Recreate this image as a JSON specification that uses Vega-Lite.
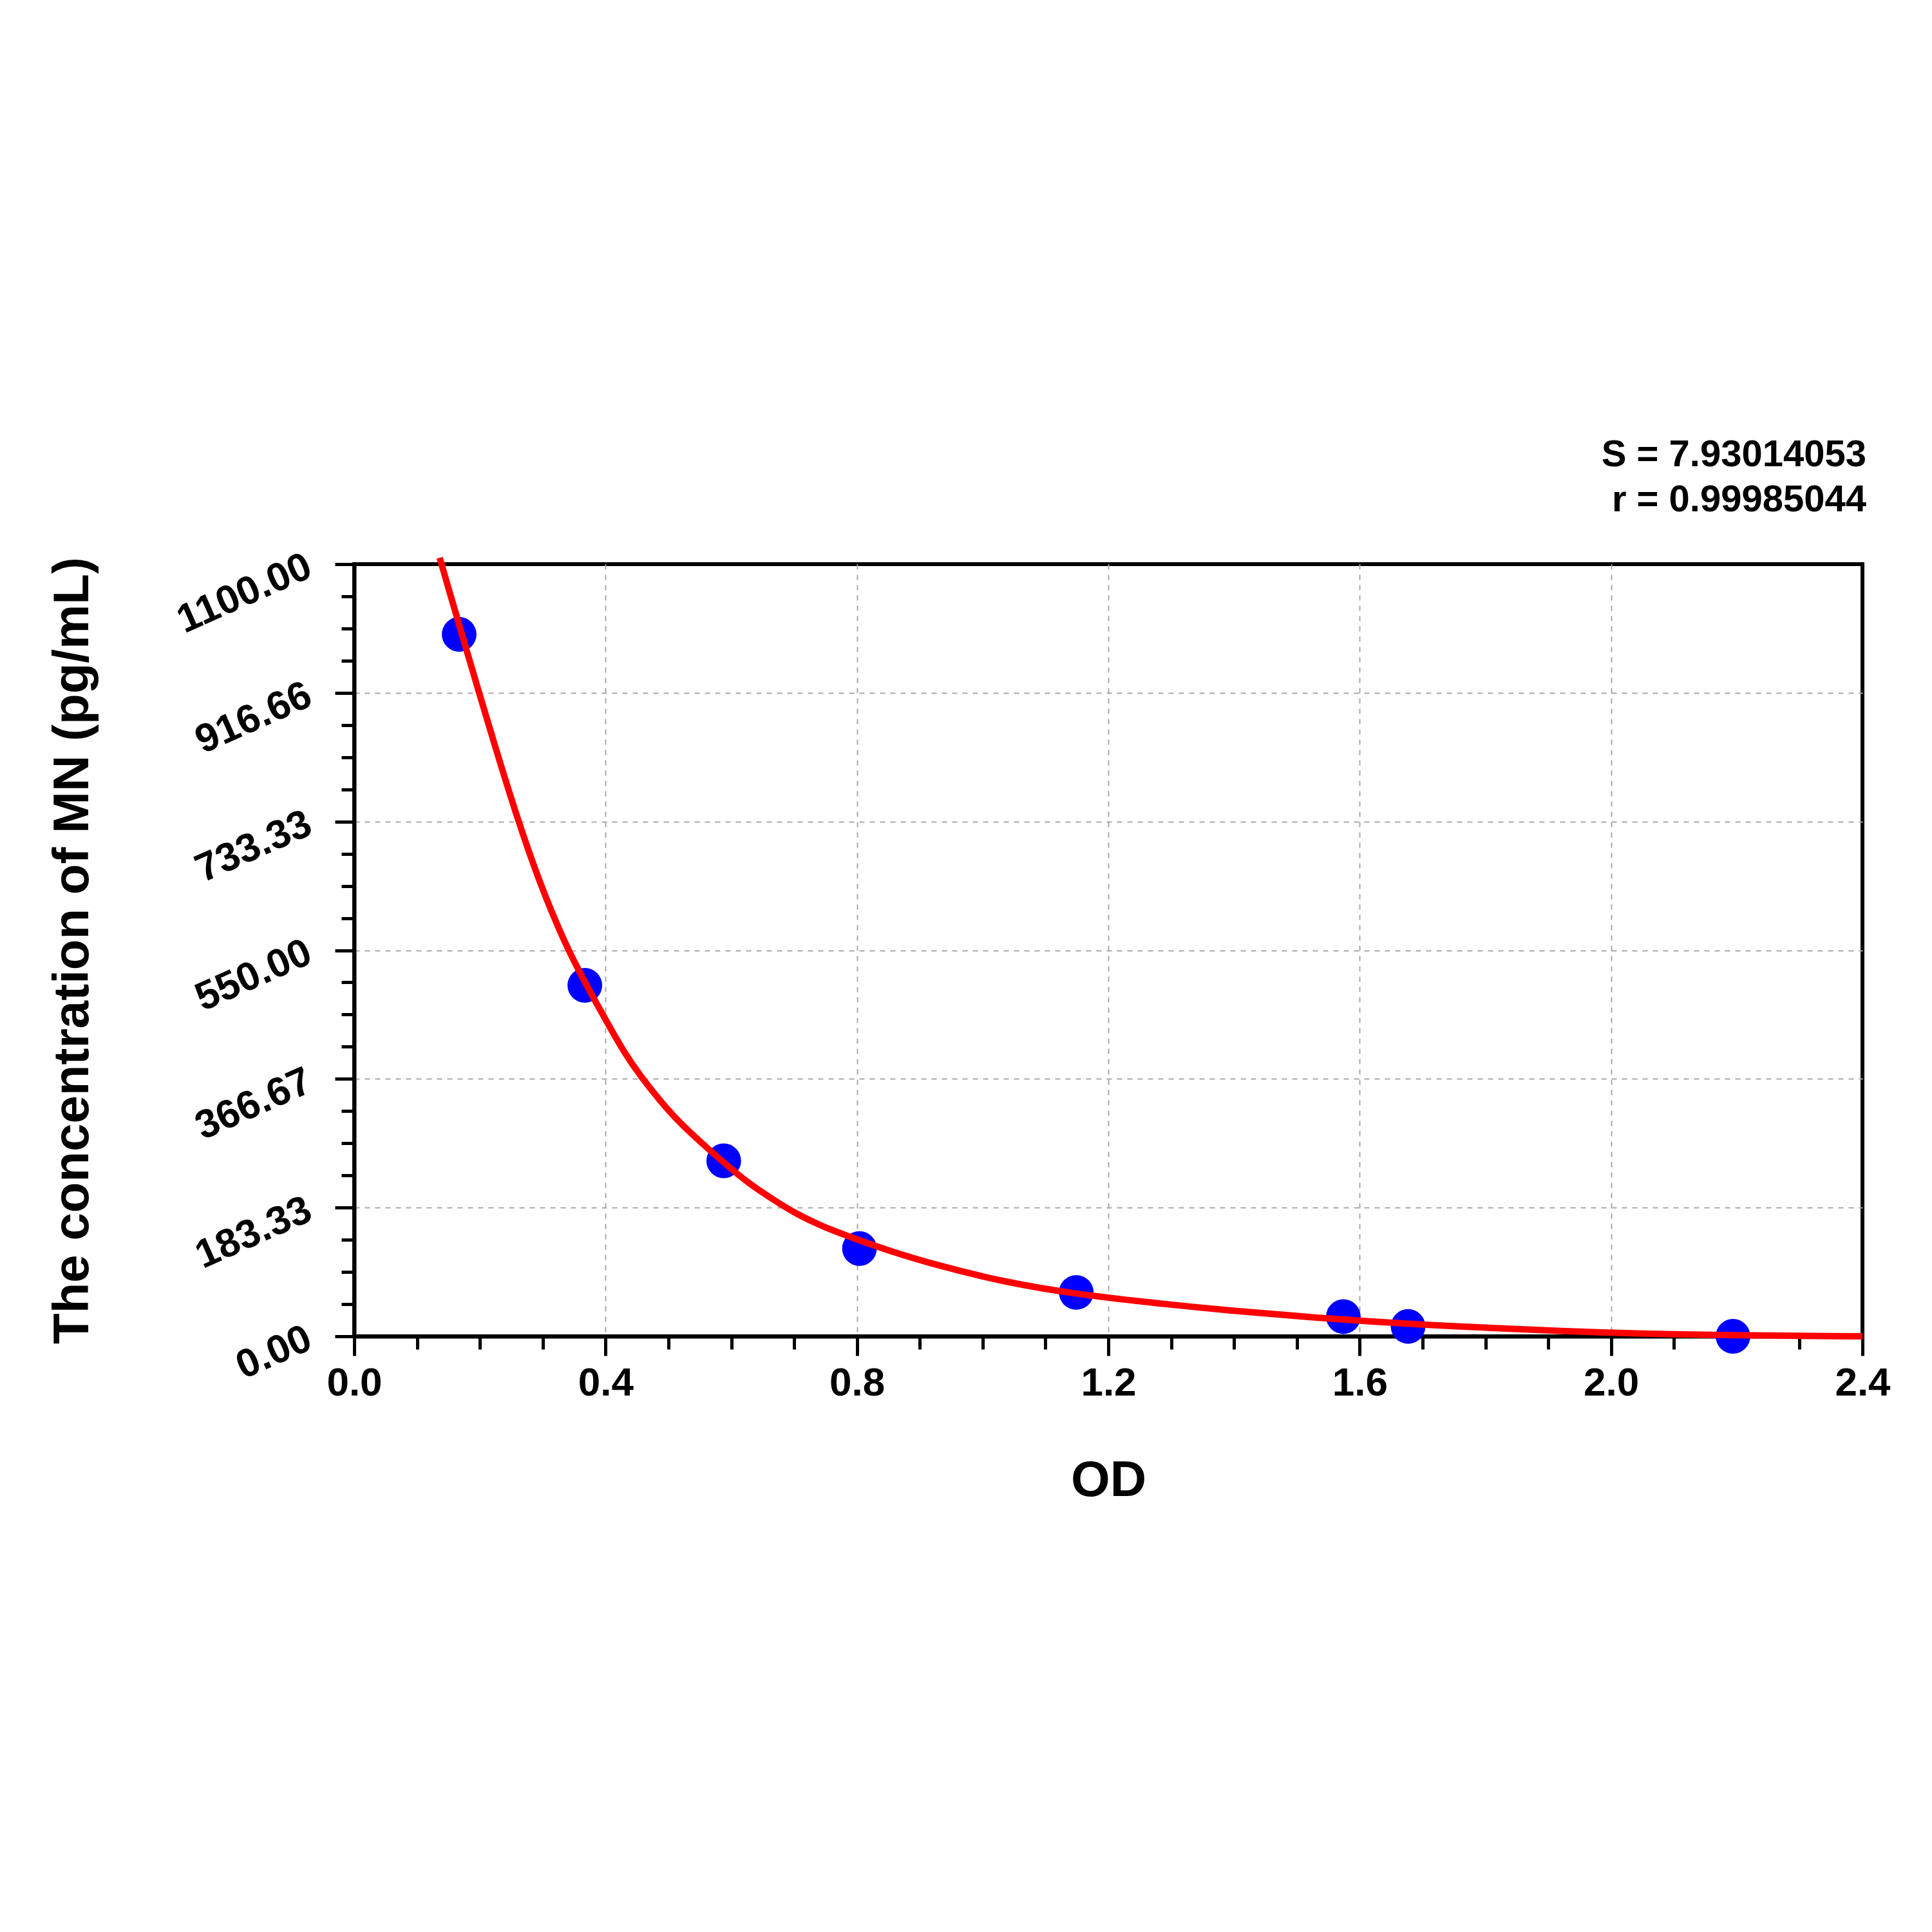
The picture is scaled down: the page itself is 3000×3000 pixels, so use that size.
{
  "$schema": "https://vega.github.io/schema/vega-lite/v6.json",
  "width": 2342,
  "height": 1199,
  "padding": {"left": 74, "top": 678, "right": 0, "bottom": 0},
  "background": "white",
  "config": {
    "font": "Liberation Sans",
    "view": {"stroke": "black", "strokeWidth": 6}
  },
  "title": {
    "text": "S = 7.93014053",
    "subtitle": "r = 0.99985044",
    "anchor": "end",
    "frame": "group",
    "font": "Liberation Sans",
    "fontSize": 58,
    "fontWeight": "bold",
    "color": "black",
    "subtitleFont": "Liberation Sans",
    "subtitleFontSize": 58,
    "subtitleFontWeight": "bold",
    "subtitleColor": "black",
    "subtitlePadding": 12,
    "offset": 40,
    "dx": 6
  },
  "datasets": {
    "points": [
      {"od": 0.167, "conc": 1000},
      {"od": 0.367, "conc": 500},
      {"od": 0.588, "conc": 250},
      {"od": 0.804, "conc": 125},
      {"od": 1.149, "conc": 62.5},
      {"od": 1.574, "conc": 28},
      {"od": 1.677, "conc": 14},
      {"od": 2.194, "conc": 0}
    ],
    "curve": [
      {"od": 0.136, "conc": 1109},
      {"od": 0.160, "conc": 1035},
      {"od": 0.178, "conc": 980},
      {"od": 0.196, "conc": 925},
      {"od": 0.225, "conc": 838},
      {"od": 0.257, "conc": 745},
      {"od": 0.294, "conc": 648},
      {"od": 0.335, "conc": 560},
      {"od": 0.361, "conc": 515},
      {"od": 0.382, "conc": 480},
      {"od": 0.402, "conc": 448},
      {"od": 0.429, "conc": 405},
      {"od": 0.456, "conc": 370},
      {"od": 0.490, "conc": 332},
      {"od": 0.515, "conc": 307},
      {"od": 0.552, "conc": 276},
      {"od": 0.586, "conc": 249},
      {"od": 0.627, "conc": 218},
      {"od": 0.668, "conc": 194},
      {"od": 0.702, "conc": 175},
      {"od": 0.746, "conc": 156},
      {"od": 0.797, "conc": 139},
      {"od": 0.850, "conc": 122},
      {"od": 0.932, "conc": 100},
      {"od": 1.036, "conc": 77},
      {"od": 1.149, "conc": 60},
      {"od": 1.277, "conc": 47},
      {"od": 1.390, "conc": 37},
      {"od": 1.520, "conc": 27},
      {"od": 1.700, "conc": 16},
      {"od": 1.930, "conc": 7},
      {"od": 2.110, "conc": 2},
      {"od": 2.400, "conc": 0}
    ]
  },
  "encoding": {
    "x": {
      "field": "od",
      "type": "quantitative",
      "scale": {"domain": [0, 2.4], "nice": false, "zero": false},
      "axis": {
        "title": "OD",
        "titleFont": "Liberation Sans",
        "titleFontSize": 78,
        "titleFontWeight": "bold",
        "titleColor": "black",
        "titlePadding": 82,
        "values": [0, 0.1, 0.2, 0.3, 0.4, 0.5, 0.6, 0.7, 0.8, 0.9, 1.0, 1.1, 1.2, 1.3, 1.4, 1.5, 1.6, 1.7, 1.8, 1.9, 2.0, 2.1, 2.2, 2.3, 2.4],
        "labelExpr": "abs(datum.value/0.4 - round(datum.value/0.4)) < 0.01 ? format(datum.value, '.1f') : ''",
        "labelFont": "Liberation Sans",
        "labelFontSize": 62,
        "labelFontWeight": "bold",
        "labelColor": "black",
        "labelPadding": 12,
        "labelFlush": false,
        "labelOverlap": false,
        "labelLimit": 0,
        "domainColor": "black",
        "domainWidth": 6,
        "tickColor": "black",
        "tickWidth": 5,
        "tickSize": {"condition": {"test": "abs(datum.value/0.4 - round(datum.value/0.4)) < 0.01", "value": 30}, "value": 20},
        "grid": true,
        "gridColor": "#a8a8a8",
        "gridWidth": 2,
        "gridDash": [8, 8],
        "gridOpacity": {"condition": {"test": "abs(datum.value/0.4 - round(datum.value/0.4)) < 0.01 && datum.value > 0.01 && datum.value < 2.39", "value": 1}, "value": 0}
      }
    },
    "y": {
      "field": "conc",
      "type": "quantitative",
      "scale": {"domain": [0, 1100], "nice": false, "zero": false},
      "axis": {
        "title": "The concentration of MN (pg/mL)",
        "titleFont": "Liberation Sans",
        "titleFontSize": 78,
        "titleFontWeight": "bold",
        "titleColor": "black",
        "titlePadding": 198,
        "values": [0, 45.83, 91.67, 137.5, 183.33, 229.17, 275, 320.83, 366.67, 412.5, 458.33, 504.17, 550, 595.83, 641.67, 687.5, 733.33, 779.17, 825, 870.83, 916.66, 962.5, 1008.33, 1054.17, 1100],
        "labelExpr": "abs(datum.value/183.3333 - round(datum.value/183.3333)) < 0.01 ? format(datum.value, '.2f') : ''",
        "labelFont": "Liberation Sans",
        "labelFontSize": 62,
        "labelFontWeight": "bold",
        "labelColor": "black",
        "labelAngle": -24,
        "labelAlign": "right",
        "labelBaseline": "middle",
        "labelPadding": 40,
        "labelFlush": false,
        "labelOverlap": false,
        "labelLimit": 0,
        "domainColor": "black",
        "domainWidth": 6,
        "tickColor": "black",
        "tickWidth": 5,
        "tickSize": {"condition": {"test": "abs(datum.value/183.3333 - round(datum.value/183.3333)) < 0.01", "value": 30}, "value": 20},
        "grid": true,
        "gridColor": "#a8a8a8",
        "gridWidth": 2,
        "gridDash": [8, 8],
        "gridOpacity": {"condition": {"test": "abs(datum.value/183.3333 - round(datum.value/183.3333)) < 0.01 && datum.value > 1 && datum.value < 1099", "value": 1}, "value": 0}
      }
    }
  },
  "layer": [
    {
      "data": {"name": "points"},
      "mark": {"type": "point", "shape": "circle", "filled": true, "color": "#0000ff", "size": 2900, "opacity": 1}
    },
    {
      "data": {"name": "curve"},
      "mark": {"type": "line", "color": "#ff0000", "strokeWidth": 10, "interpolate": "basis"}
    }
  ]
}
